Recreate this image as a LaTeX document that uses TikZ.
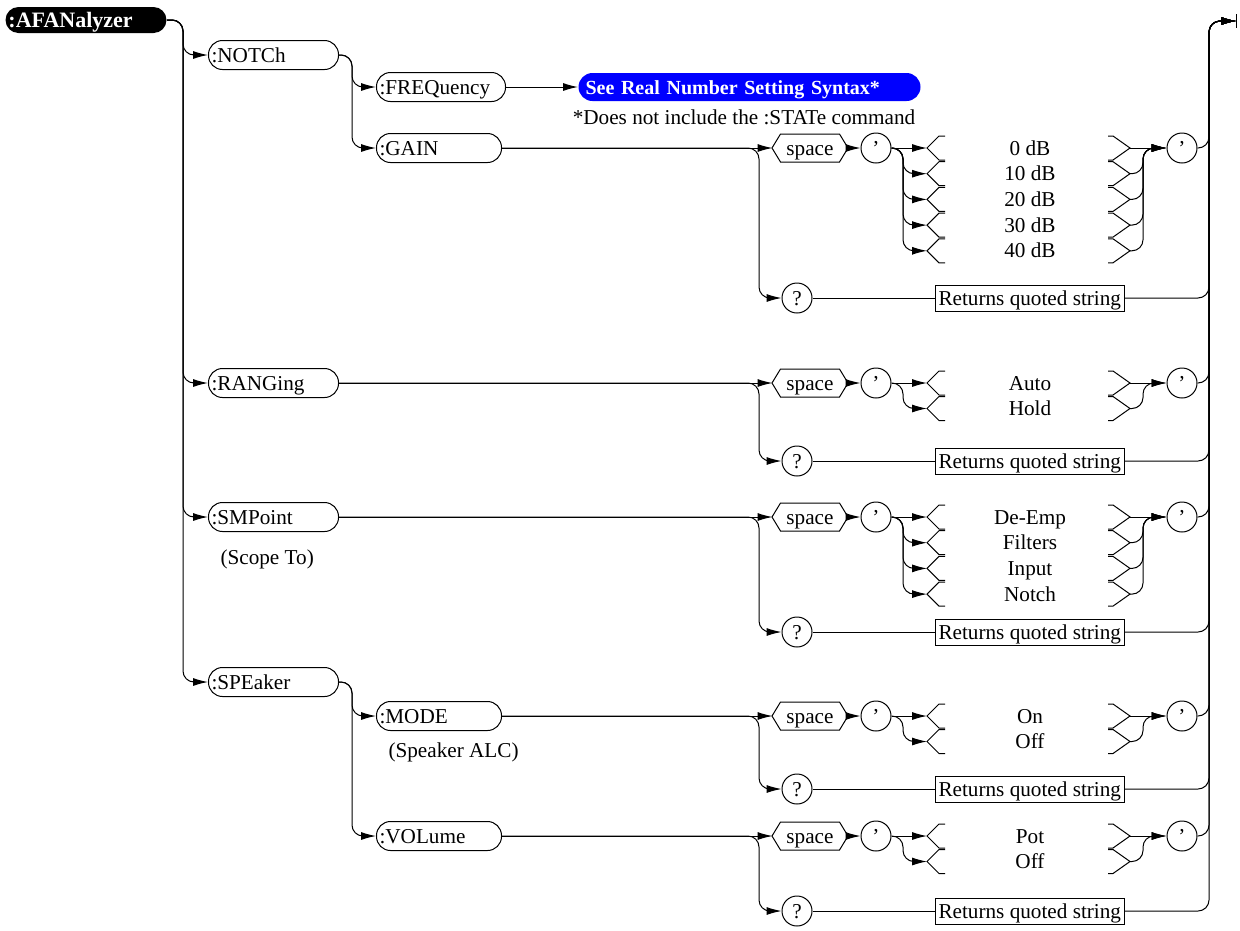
\documentclass[tikz,border=0pt]{standalone}
\usepackage{fontspec}
\setmainfont{Liberation Serif}
\usetikzlibrary{arrows.meta}
\newcommand{\mkbranch}[5]{%
  \node[hexnode] (#1sp) at (810,#3) {space};
  \draw ([xshift=-0.5pt]#1sp.west) -- ([xshift=8pt]#1sp.north west) -- ([xshift=-8pt]#1sp.north east) -- ([xshift=0.5pt]#1sp.east) -- ([xshift=-8pt]#1sp.south east) -- ([xshift=8pt]#1sp.south west) -- cycle;
  \node[qcirc] (#1q1) at (876,#3) {’};
  \node[qcirc] (#1q2) at (1182,#3) {’};
  \node[qcirc] (#1qm) at (797,#4) {?};
  \node[retbox] (#1box) at (935,#4) {Returns quoted string};
  \draw[arr] (#2.east) -- (#1sp.west);
  \draw[rc,arr] (#2.east) -| (vS |- #1qm.west) -- (#1qm.west);
  \draw[arr] (#1sp.east) -- (#1q1.west);
  \draw (#1qm.east) -- (#1box.west);
  \draw[rc,arr] (#1box.east) -| (vR |- exit) -- (exit);
  \draw[rc,arr] (#1q2.east) -| (vR |- exit) -- (exit);
  \foreach \yy/\ot [count=\i] in {#5} {
    \node (#1o\i) at (1030,\yy) {\ot};
    \coordinate (#1l\i) at (927,\yy);
    \coordinate (#1r\i) at (1130,\yy);
    \draw (#1l\i) ++(18,-12) -- ++(-6,0) -- (#1l\i) -- ++(12,12) -- ++(6,0);
    \draw (#1r\i) ++(-22,-12) -- ++(5,0) -- (#1r\i) -- ++(-17,12) -- ++(-5,0);
    \ifnum\i=1
      \draw[arr] (#1q1.east) -- (#1l\i);
      \draw[arr] (#1r\i) -- (#1q2.west);
    \else
      \draw[rc,arr] (#1q1.east) -| (vL |- #1l\i) -- (#1l\i);
      \draw[rc,arr] (#1r\i) -| (vJ |- #1q2.west) -- (#1q2.west);
    \fi
  }
}
\begin{document}
\begin{tikzpicture}[x=1pt,y=-1pt,line width=1pt,
  every node/.style={font=\fontsize{21.2}{25}\selectfont, inner sep=0pt, text height=15pt, text depth=1pt},
  rc/.style={rounded corners=11pt},
  arr/.style={-{Latex[length=15pt,width=8pt]}},
  cmd/.style={draw, rounded corners=14pt, minimum height=29pt, anchor=west, align=left, inner xsep=3pt},
  hexnode/.style={minimum width=74pt, minimum height=27pt},
  qcirc/.style={draw, circle, minimum size=30pt},
  retbox/.style={draw, anchor=west, minimum height=26pt, inner xsep=3pt}
]
\useasboundingbox (0,0) rectangle (1240,930);
\coordinate (vA) at (183,0);
\coordinate (vB) at (352,0);
\coordinate (vS) at (759,0);
\coordinate (vL) at (903,0);
\coordinate (vJ) at (1143,0);
\coordinate (vR) at (1209,0);
\coordinate (exit) at (1236,21);
\draw (exit) ++(0,-7) -- ++(0,14);

\node[fill=black, text=white, rounded corners=13pt, minimum height=26pt, anchor=west, align=left, text width=155pt, inner xsep=3pt, font=\fontsize{22}{26}\selectfont\bfseries] (afan) at (5,20) {:AFANalyzer};

\node[cmd, text width=124pt] (notch) at (208,55) {:NOTCh};
\node[cmd, text width=123pt] (freq) at (376,87) {:FREQuency};
\node[fill=blue, text=white, rounded corners=14pt, minimum height=28pt, anchor=west, align=left, text width=328pt, inner xsep=7pt, font=\fontsize{20}{24}\selectfont\bfseries] (blue) at (578,87) {See Real Number Setting Syntax*};
\node (note) at (744,117) {*Does not include the :STATe command};
\node[cmd, text width=119pt] (gain) at (376,148) {:GAIN};
\node[cmd, text width=124pt] (ranging) at (208,383) {:RANGing};
\node[cmd, text width=124pt] (smpoint) at (208,517) {:SMPoint};
\node[anchor=west] (scope) at (220,557) {(Scope To)};
\node[cmd, text width=124pt] (speaker) at (208,682) {:SPEaker};
\node[cmd, text width=119pt] (mode) at (376,716) {:MODE};
\node[anchor=west] (alc) at (388,750) {(Speaker ALC)};
\node[cmd, text width=119pt] (volume) at (376,836) {:VOLume};

\draw[rc,arr] (afan.east) -| (vA |- notch.west) -- (notch.west);
\draw[rc,arr] (afan.east) -| (vA |- ranging.west) -- (ranging.west);
\draw[rc,arr] (afan.east) -| (vA |- smpoint.west) -- (smpoint.west);
\draw[rc,arr] (afan.east) -| (vA |- speaker.west) -- (speaker.west);
\draw[rc,arr] (notch.east) -| (vB |- freq.west) -- (freq.west);
\draw[rc,arr] (notch.east) -| (vB |- gain.west) -- (gain.west);
\draw[arr] (freq.east) -- (blue.west);
\draw[rc,arr] (speaker.east) -| (vB |- mode.west) -- (mode.west);
\draw[rc,arr] (speaker.east) -| (vB |- volume.west) -- (volume.west);

\mkbranch{G}{gain}{148}{298}{148/0 dB,173.7/10 dB,199.4/20 dB,225.1/30 dB,250.8/40 dB}
\mkbranch{R}{ranging}{383}{461}{383/Auto,408.5/Hold}
\mkbranch{S}{smpoint}{517}{632}{517/De-Emp,542.7/Filters,568.4/Input,594.1/Notch}
\mkbranch{M}{mode}{716}{789}{716/On,741.5/Off}
\mkbranch{V}{volume}{836}{911}{836/Pot,861.5/Off}
\end{tikzpicture}
\end{document}
